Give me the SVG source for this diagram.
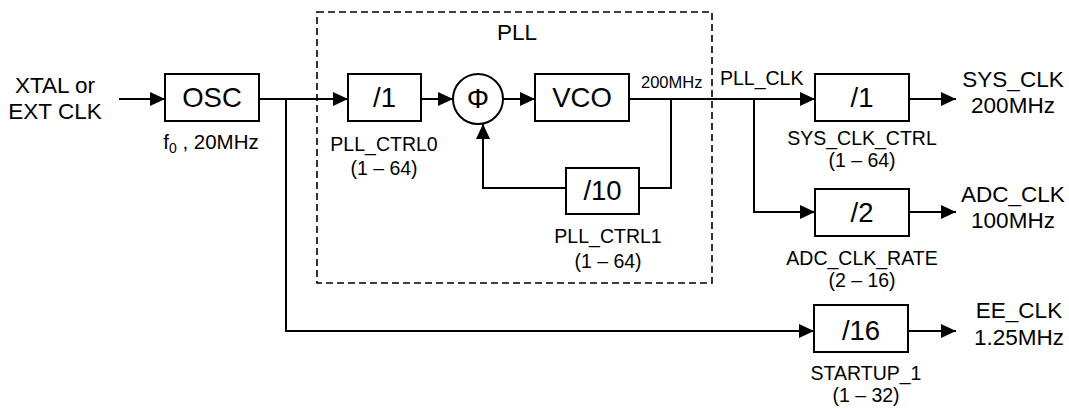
<svg xmlns="http://www.w3.org/2000/svg" width="1069" height="409" viewBox="0 0 1069 409">
<style>
  text { font-family: "Liberation Sans", Arial, sans-serif; fill: #000; }
  .big { font-size: 27.5px; text-anchor: middle; }
  .lbl { font-size: 22.5px; text-anchor: middle; }
  .sm { font-size: 19.5px; text-anchor: middle; }
  .box { fill: #fff; stroke: #000; stroke-width: 2; }
  .wire { fill: none; stroke: #000; stroke-width: 2; }
  .arr { marker-end: url(#ah); }
</style>
<defs>
  <marker id="ah" markerUnits="userSpaceOnUse" markerWidth="16" markerHeight="16" refX="15" refY="7" orient="auto">
    <path d="M0,0 L15,7 L0,14 Z" fill="#000"/>
  </marker>
</defs>
<rect x="0" y="0" width="1069" height="409" fill="#fff"/>

<g id="pll-boundary">
  <rect x="317" y="12" width="395" height="271" fill="none" stroke="#000" stroke-width="1.6" stroke-dasharray="7,4"/>
  <text class="lbl" x="517" y="40">PLL</text>
</g>

<g id="connectors">
  <line class="wire arr" x1="119" y1="99" x2="165" y2="99"/>
  <line class="wire arr" x1="259" y1="99" x2="348" y2="99"/>
  <polyline class="wire arr" points="286,99 286,331 814,331"/>
  <line class="wire arr" x1="421" y1="99" x2="453" y2="99"/>
  <line class="wire arr" x1="503" y1="99" x2="535" y2="99"/>
  <line class="wire arr" x1="629" y1="99" x2="815" y2="99"/>
  <polyline class="wire" points="671,99 671,188 639,188"/>
  <polyline class="wire arr" points="566,188 483,188 483,124"/>
  <polyline class="wire arr" points="754,99 754,212 815,212"/>
  <line class="wire arr" x1="909" y1="99" x2="956" y2="99"/>
  <line class="wire arr" x1="909" y1="212" x2="956" y2="212"/>
  <line class="wire arr" x1="908" y1="331" x2="956" y2="331"/>
  <text x="641" y="88" style="font-size:16.5px">200MHz</text>
  <text x="720" y="85" style="font-size:19.5px">PLL_CLK</text>
</g>

<g id="input">
  <text class="lbl" x="55" y="93">XTAL or</text>
  <text class="lbl" x="55" y="119">EXT CLK</text>
</g>

<g id="osc">
  <rect class="box" x="165" y="74" width="94" height="47"/>
  <text class="big" x="212" y="107">OSC</text>
  <text x="211" y="149" style="font-size:20.5px;text-anchor:middle">f<tspan style="font-size:14px" dy="4">0</tspan><tspan dy="-4"> , 20MHz</tspan></text>
</g>

<g id="div-pll-ctrl0">
  <rect class="box" x="348" y="74" width="73" height="47"/>
  <text class="big" x="384.5" y="107">/1</text>
  <text class="sm" x="384" y="151">PLL_CTRL0</text>
  <text class="sm" x="384" y="175">(1 – 64)</text>
</g>

<g id="phase-detector">
  <circle cx="478" cy="99" r="25" fill="#fff" stroke="#000" stroke-width="2"/>
  <text class="big" x="478" y="108" style="font-size:28px">Φ</text>
</g>

<g id="vco">
  <rect class="box" x="535" y="74" width="94" height="47"/>
  <text class="big" x="582" y="107">VCO</text>
</g>

<g id="div-pll-ctrl1">
  <rect class="box" x="566" y="168" width="73" height="46"/>
  <text class="big" x="602.5" y="200">/10</text>
  <text class="sm" x="608" y="243">PLL_CTRL1</text>
  <text class="sm" x="608" y="268">(1 – 64)</text>
</g>

<g id="div-sys-clk">
  <rect class="box" x="815" y="74" width="94" height="47"/>
  <text class="big" x="862" y="107">/1</text>
  <text class="sm" x="862" y="145">SYS_CLK_CTRL</text>
  <text class="sm" x="862" y="167">(1 – 64)</text>
</g>

<g id="div-adc-clk">
  <rect class="box" x="815" y="189" width="94" height="47"/>
  <text class="big" x="862" y="222">/2</text>
  <text class="sm" x="862" y="265">ADC_CLK_RATE</text>
  <text class="sm" x="862" y="287">(2 – 16)</text>
</g>

<g id="div-ee-clk">
  <rect class="box" x="814" y="305" width="94" height="47"/>
  <text class="big" x="861" y="340">/16</text>
  <text class="sm" x="866" y="380">STARTUP_1</text>
  <text class="sm" x="866" y="402">(1 – 32)</text>
</g>

<g id="out-sys-clk">
  <text class="lbl" x="1013" y="87">SYS_CLK</text>
  <text class="lbl" x="1013" y="113">200MHz</text>
</g>
<g id="out-adc-clk">
  <text class="lbl" x="1013" y="202">ADC_CLK</text>
  <text class="lbl" x="1013" y="228">100MHz</text>
</g>
<g id="out-ee-clk">
  <text class="lbl" x="1019" y="318">EE_CLK</text>
  <text class="lbl" x="1019" y="345">1.25MHz</text>
</g>
</svg>
